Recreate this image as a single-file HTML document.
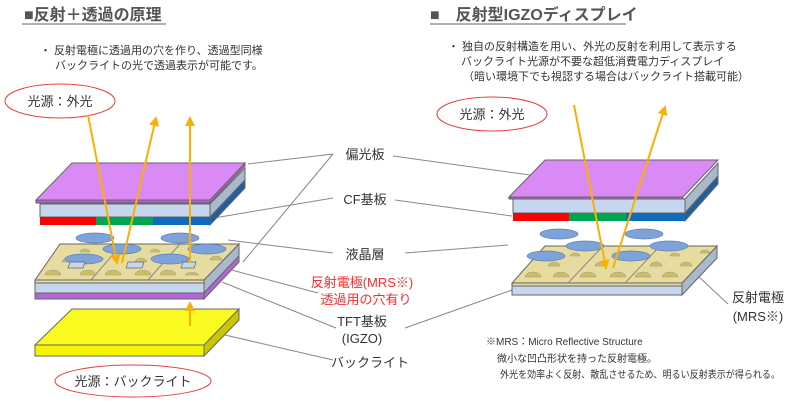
<!DOCTYPE html>
<html><head><meta charset="utf-8"><style>
body{margin:0;background:#fff;width:800px;height:409px;overflow:hidden}
svg{display:block;font-family:"Liberation Sans","Noto Sans CJK JP",sans-serif}
</style></head><body>
<svg width="800" height="409" viewBox="0 0 800 409" xmlns="http://www.w3.org/2000/svg">
<defs><marker id="ah" viewBox="0 0 10 10" refX="8" refY="5" markerWidth="5" markerHeight="5" orient="auto"><path d="M0,0L10,5L0,10z" fill="#f9b000"/></marker></defs>
<text x="24" y="20" font-size="16" font-weight="bold" fill="#555">■反射＋透過の原理</text>
<line x1="22" y1="24" x2="166" y2="24" stroke="#999" stroke-width="1.5"/>
<text x="430" y="20" font-size="16" font-weight="bold" fill="#555">■　反射型IGZOディスプレイ</text>
<line x1="430" y1="24" x2="626" y2="24" stroke="#999" stroke-width="1.5"/>
<g font-size="11" fill="#333">
<text x="40" y="54">・ 反射電極に透過用の穴を作り、透過型同様</text>
<text x="55" y="69">バックライトの光で透過表示が可能です。</text>
<text x="448" y="50">・ 独自の反射構造を用い、外光の反射を利用して表示する</text>
<text x="461" y="65">バックライト光源が不要な超低消費電力ディスプレイ</text>
<text x="463" y="80">（暗い環境下でも視認する場合はバックライト搭載可能）</text>
</g>
<ellipse cx="60" cy="101" rx="55" ry="17" fill="#fff" stroke="#e84040"/>
<text x="60" y="106" font-size="13" text-anchor="middle" fill="#333">光源：外光</text>
<ellipse cx="133" cy="381" rx="78" ry="16" fill="#fff" stroke="#e84040"/>
<text x="133" y="386" font-size="13" text-anchor="middle" fill="#333">光源：バックライト</text>
<ellipse cx="492" cy="114" rx="55" ry="17" fill="#fff" stroke="#e84040"/>
<text x="492" y="119" font-size="13" text-anchor="middle" fill="#333">光源：外光</text>
<g stroke="#888" stroke-width="1" fill="none">
<line x1="333" y1="154" x2="248" y2="164"/><line x1="333" y1="154" x2="243" y2="262"/>
<line x1="393" y1="156" x2="530" y2="175"/>
<line x1="333" y1="198" x2="214" y2="218"/><line x1="395" y1="200" x2="512" y2="216"/>
<line x1="333" y1="253" x2="228" y2="240"/><line x1="405" y1="253" x2="508" y2="245"/>
<line x1="318" y1="293" x2="224" y2="268"/>
<line x1="336" y1="328" x2="222" y2="282"/><line x1="405" y1="328" x2="512" y2="290"/>
<line x1="333" y1="360" x2="225" y2="335"/>
<line x1="728" y1="304" x2="698" y2="276"/>
</g>
<g font-size="13" fill="#333" text-anchor="middle">
<text x="365" y="159">偏光板</text>
<text x="365" y="204">CF基板</text>
<text x="365" y="259">液晶層</text>
<text x="362" y="287" fill="#ff2a2a">反射電極(MRS※)</text>
<text x="366" y="304" fill="#ff2a2a">透過用の穴有り</text>
<text x="362" y="326">TFT基板</text>
<text x="362" y="343">(IGZO)</text>
<text x="370" y="367">バックライト</text>
<text x="758" y="302">反射電極</text>
<text x="758" y="321">(MRS※)</text>
</g>
<g font-size="10" fill="#333">
<text x="486" y="345">※MRS：Micro Reflective Structure</text>
<text x="497" y="362">微小な凹凸形状を持った反射電極。</text>
<text x="500" y="378" textLength="280" lengthAdjust="spacingAndGlyphs">外光を効率よく反射、散乱させるため、明るい反射表示が得られる。</text>
</g>
<!-- LEFT STACK -->
<g stroke="#666" stroke-width="1">
<polygon points="210,204 245,168 245,180 210,217" fill="#aab8cc"/>
<polygon points="210,217 245,180 245,188 210,225" fill="#1f5fa0"/>
<rect x="40" y="204" width="170" height="13" fill="#c5d6ee"/>
<rect x="40" y="217" width="56" height="8" fill="#f00" stroke="none"/>
<rect x="96" y="217" width="57" height="8" fill="#00a550" stroke="none"/>
<rect x="153" y="217" width="57" height="8" fill="#0f6cbd" stroke="none"/>
<polygon points="72,163 245,163 210,200 36,200" fill="#d98af5"/>
<polygon points="36,200 210,200 210,203 36,203" fill="#b060d0"/>
<polygon points="210,200 245,163 245,166 210,203" fill="#b060d0"/>
<!-- TFT -->
<polygon points="204,280 239,244 239,256 204,293" fill="#aab8cc"/>
<polygon points="204,293 239,256 239,262 204,299" fill="#b565d5"/>
<rect x="35" y="280" width="169" height="13" fill="#c5d6ee"/>
<rect x="35" y="280" width="169" height="3" fill="#e6dca0"/>
<rect x="35" y="293" width="169" height="6" fill="#b565d5"/>
<polygon points="60,244 239,244 204,280 35,280" fill="#e6dca0"/>
<line x1="122" y1="244" x2="91" y2="280" stroke="#888"/><line x1="180" y1="244" x2="148" y2="280" stroke="#888"/>
<!-- backlight -->
<polygon points="72,309 239,309 204,345 35,345" fill="#fafa20"/>
<rect x="35" y="345" width="169" height="11" fill="#f5f500"/>
<polygon points="204,345 239,309 239,320 204,356" fill="#c8c800"/>
</g>
<g fill="#d0bd60" stroke="#999" stroke-width="0.5">
<path d="M45,275 a8,5 0 0 1 16,0z"/><path d="M80,275 a8,5 0 0 1 16,0z"/><path d="M105,275 a8,5 0 0 1 16,0z"/><path d="M135,275 a8,5 0 0 1 16,0z"/><path d="M160,275 a8,5 0 0 1 16,0z"/><path d="M185,275 a8,5 0 0 1 14,0z"/>
<path d="M62,262 a6,4 0 0 1 12,0z"/><path d="M135,262 a6,4 0 0 1 12,0z"/><path d="M210,260 a6,4 0 0 1 12,0z"/>
<path d="M80,252 a5,3 0 0 1 10,0z"/><path d="M150,252 a5,3 0 0 1 10,0z"/><path d="M215,250 a5,3 0 0 1 10,0z"/>
</g>
<g fill="#7fa3d8" stroke="#5a7fb5" stroke-width="0.7">
<ellipse cx="95" cy="238" rx="19" ry="5"/><ellipse cx="180" cy="238" rx="19" ry="5"/>
<ellipse cx="122" cy="249" rx="19" ry="5"/><ellipse cx="207" cy="249" rx="19" ry="5"/>
<ellipse cx="84" cy="259" rx="19" ry="5"/><ellipse cx="170" cy="259" rx="19" ry="5"/>
</g>
<g fill="#c5d6ee" stroke="#666" stroke-width="0.7">
<polygon points="70,262 85,262 83,268 68,268"/><polygon points="128,262 144,262 142,268 126,268"/><polygon points="183,262 196,262 194,268 181,268"/>
</g>
<!-- RIGHT STACK -->
<g stroke="#666" stroke-width="1">
<polygon points="685,199 718,163 718,176 685,213" fill="#aab8cc"/>
<polygon points="685,213 718,176 718,184 685,221" fill="#1f5fa0"/>
<rect x="513" y="199" width="172" height="14" fill="#c5d6ee"/>
<rect x="513" y="213" width="56" height="8" fill="#f00" stroke="none"/>
<rect x="569" y="213" width="57" height="8" fill="#00a550" stroke="none"/>
<rect x="626" y="213" width="59" height="8" fill="#0f6cbd" stroke="none"/>
<polygon points="545,160 718,160 683,197 509,197" fill="#d98af5"/>
<polygon points="509,197 683,197 683,199 509,199" fill="#b060d0"/>
<polygon points="682,283 717,246 717,258 682,295" fill="#aab8cc"/>
<rect x="512" y="283" width="170" height="12" fill="#c5d6ee"/>
<rect x="512" y="283" width="170" height="3" fill="#e6dca0"/>
<polygon points="545,246 717,246 682,283 512,283" fill="#e6dca0"/>
<line x1="603" y1="246" x2="568" y2="283" stroke="#888"/><line x1="660" y1="246" x2="625" y2="283" stroke="#888"/>
</g>
<g fill="#d0bd60" stroke="#999" stroke-width="0.5">
<path d="M525,277 a8,5 0 0 1 16,0z"/><path d="M553,277 a8,5 0 0 1 16,0z"/><path d="M580,277 a8,5 0 0 1 16,0z"/><path d="M610,277 a8,5 0 0 1 16,0z"/><path d="M635,277 a8,5 0 0 1 16,0z"/><path d="M662,277 a8,5 0 0 1 16,0z"/>
<path d="M548,266 a6,4 0 0 1 12,0z"/><path d="M595,266 a6,4 0 0 1 12,0z"/><path d="M650,266 a6,4 0 0 1 12,0z"/><path d="M680,266 a6,4 0 0 1 12,0z"/>
<path d="M570,256 a5,3 0 0 1 10,0z"/><path d="M620,256 a5,3 0 0 1 10,0z"/><path d="M670,256 a5,3 0 0 1 10,0z"/><path d="M700,253 a5,3 0 0 1 10,0z"/>
</g>
<g fill="#7fa3d8" stroke="#5a7fb5" stroke-width="0.7">
<ellipse cx="559" cy="234" rx="19" ry="5"/><ellipse cx="644" cy="234" rx="19" ry="5"/>
<ellipse cx="585" cy="246" rx="19" ry="5"/><ellipse cx="669" cy="246" rx="19" ry="5"/>
<ellipse cx="546" cy="256" rx="19" ry="5"/><ellipse cx="631" cy="256" rx="19" ry="5"/>
</g>
<g stroke="#f9b000" stroke-width="2" fill="none" marker-end="url(#ah)">
<line x1="88" y1="115" x2="117" y2="263"/>
<line x1="122" y1="263" x2="156" y2="118"/>
<line x1="190" y1="263" x2="190" y2="118"/>
<line x1="190" y1="326" x2="190" y2="303"/>
<line x1="574" y1="105" x2="606" y2="268"/>
<line x1="613" y1="268" x2="665" y2="107"/>
</g>
</svg>
</body></html>
